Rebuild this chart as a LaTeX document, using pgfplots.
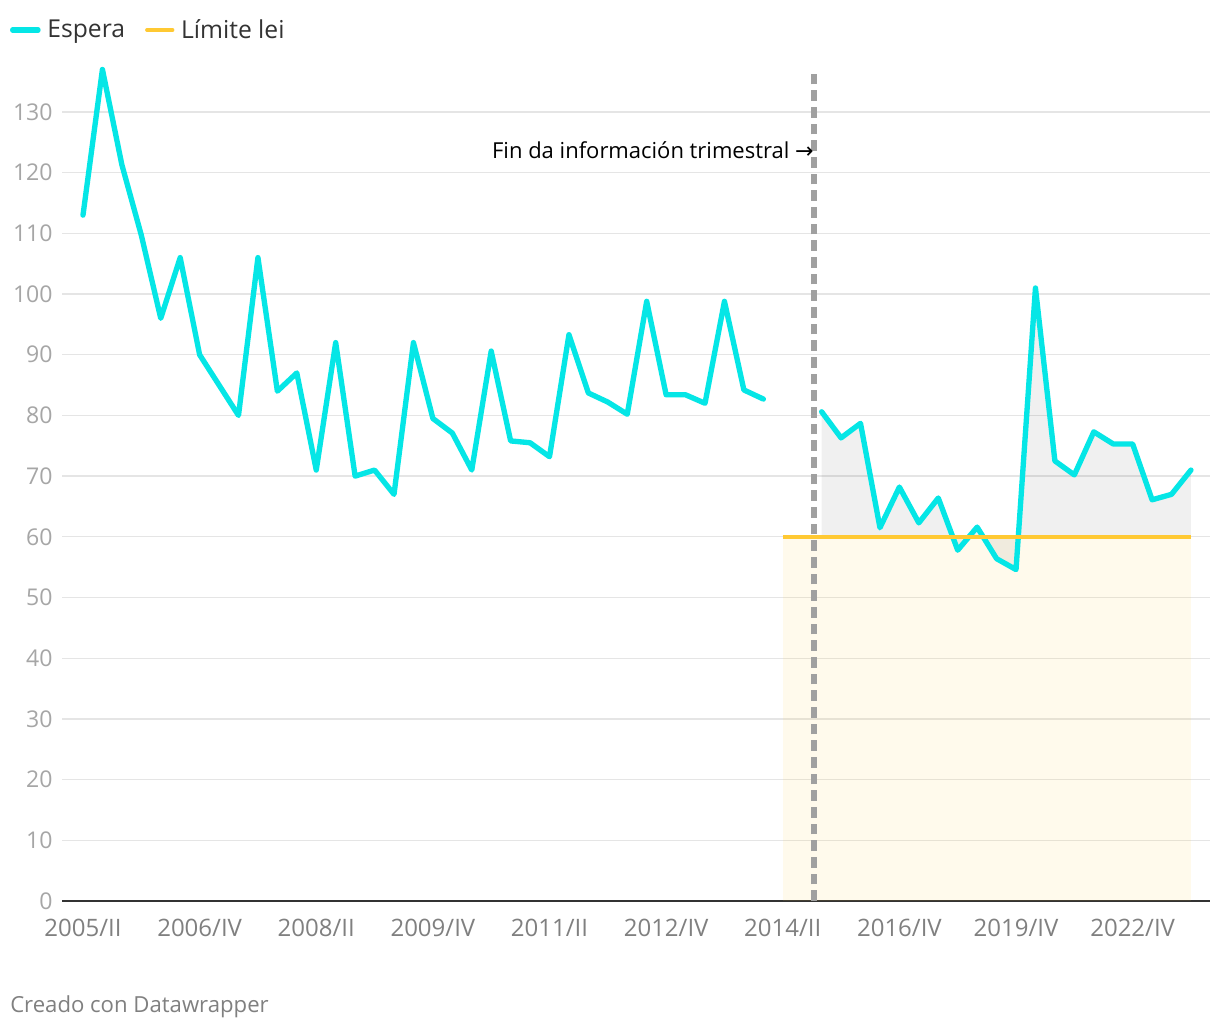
\documentclass[border=0pt]{standalone}
\usepackage{pgfplots}
\pgfplotsset{compat=1.18}
\usepackage{pgfplotstable}
\usepackage{fontspec}
\setmainfont{Open Sans}
\newfontfamily\dejavu{DejaVu Sans}

\definecolor{esp}{HTML}{05E6E6}
\definecolor{lim}{HTML}{FFC933}
\definecolor{gridc}{HTML}{E5E5E5}
\definecolor{ylab}{HTML}{A6A6A6}
\definecolor{xlab}{HTML}{808080}
\definecolor{txt}{HTML}{333333}
\definecolor{dashc}{HTML}{A0A0A0}

% espera, trimestral (2005/II - 2014/I)
\pgfplotstableread{
i v
0 113
1 137
2 121.3
3 109.7
4 96
5 106
6 90
7 85
8 80
9 106
10 84
11 87
12 71
13 92
14 70
15 71
16 67
17 92
18 79.5
19 77.1
20 71
21 90.6
22 75.8
23 75.5
24 73.2
25 93.3
26 83.7
27 82.2
28 80.2
29 98.8
30 83.4
31 83.4
32 82
33 98.8
34 84.2
35 82.7
}\segA

% espera, semestral
\pgfplotstableread{
i v
38 80.6
39 76.3
40 78.7
41 61.5
42 68.2
43 62.3
44 66.4
45 57.8
46 61.6
47 56.4
48 54.6
49 101
50 72.5
51 70.2
52 77.3
53 75.3
54 75.3
55 66.1
56 67
57 71
}\segB

\begin{document}
\begin{tikzpicture}
\path[use as bounding box, fill=white] (0,0) rectangle (915pt,771pt);
\begin{axis}[
    at={(46.5pt,95.25pt)}, anchor=south west,
    scale only axis,
    width=861pt, height=637.3pt,
    xmin=-1.08, xmax=57.98,
    ymin=0, ymax=140,
    clip=false,
    axis x line*=bottom, axis y line*=left,
    axis line style={-},
    x axis line style={draw=txt, line width=2pt},
    y axis line style={draw=none},
    major tick length=0pt,
    ymajorgrids,
    grid style={gridc, line width=1pt},
    ytick={0,10,...,130},
    xtick={0,6,12,18,24,30,36,42,48,54},
    xticklabels={2005/II,2006/IV,2008/II,2009/IV,2011/II,2012/IV,2014/II,2016/IV,2019/IV,2022/IV},
    /pgf/number format/assume math mode=true,
    yticklabel style={ylab, xshift=-3.5pt, font=\fontsize{17.3}{19}\selectfont},
    xticklabel style={xlab, yshift=-10pt, font=\fontsize{18}{20}\selectfont},
    legend columns=2,
    legend style={at={(axis description cs:-0.049,1.025)}, anchor=west,
        draw=none, fill=none, font=\fontsize{18.5}{20}\selectfont\color{txt},
        /tikz/every odd column/.append style={column sep=3pt},
        /tikz/every even column/.append style={column sep=13pt}},
]
% yellow area below the limit
\addplot[fill=lim, fill opacity=0.09, draw=none, forget plot]
    coordinates {(36,0) (36,60) (57,60) (57,0)} --cycle;

% grey area between espera and the limit
\addplot[fill=black, fill opacity=0.06, draw=none, forget plot]
    table[x=i, y=v] {\segB} -- (axis cs:57,60) -- (axis cs:38,60) -- cycle;

\addplot[esp, line width=4pt, line join=round, line cap=round,
    legend image code/.code={\draw[esp, line width=4pt, line cap=round] (0pt,0pt) -- (19pt,0pt);}]
    table[x=i, y=v] {\segA};
\addlegendentry{Espera}

\addplot[esp, line width=4pt, line join=round, line cap=round, forget plot]
    table[x=i, y=v] {\segB};

\addplot[lim, line width=3pt,
    legend image code/.code={\draw[lim, line width=3pt, line cap=round] (0pt,0pt) -- (19pt,0pt);}]
    coordinates {(36,60) (57,60)};
\addlegendentry{Límite lei}

\addplot[dashc, line width=4.5pt, dash pattern=on 8pt off 4.5pt, forget plot]
    coordinates {(37.6,0) (37.6,137)};

\node[anchor=east, inner sep=0pt, font=\fontsize{16.5}{18}\selectfont, text=black]
    at (axis cs:37.6,123.7) {Fin da información trimestral {\dejavu →}};
\end{axis}
\node[anchor=west, inner sep=0pt, text=xlab, font=\fontsize{16.6}{18}\selectfont]
    at (7.5pt,16pt) {Creado con Datawrapper};
\end{tikzpicture}
\end{document}
